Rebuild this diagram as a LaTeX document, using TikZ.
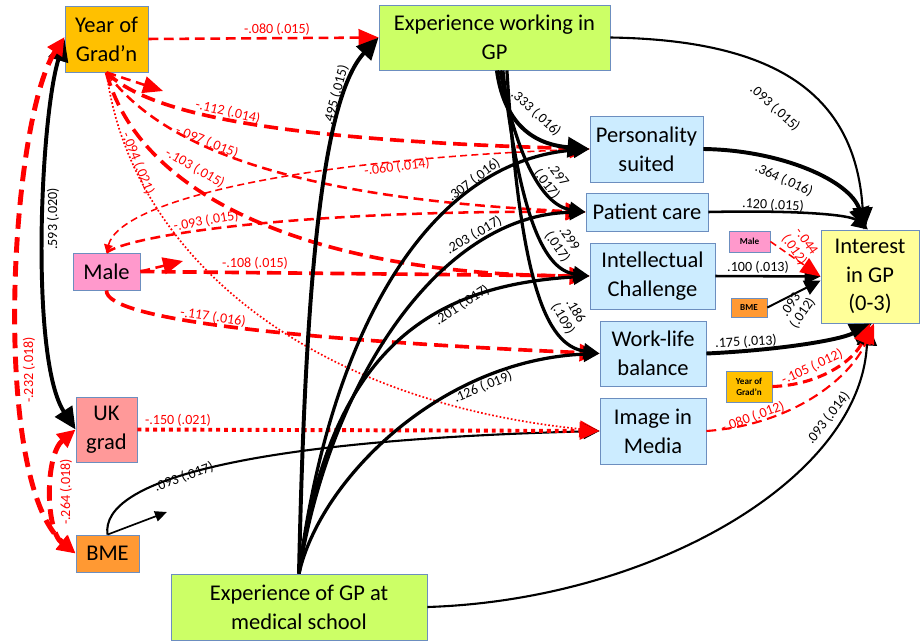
\documentclass[tikz,border=0pt]{standalone}
\usepackage{fontspec}
\setmainfont{Carlito}
\usetikzlibrary{arrows.meta}

\definecolor{boxline}{RGB}{108,142,191}
\definecolor{gradcol}{HTML}{FFC000}
\definecolor{expcol}{HTML}{CCFF66}
\definecolor{motcol}{HTML}{CCECFF}
\definecolor{gpcol}{HTML}{FFFF99}
\definecolor{malecol}{HTML}{FF99CC}
\definecolor{ukcol}{HTML}{FF9999}
\definecolor{bmecol}{HTML}{FF9933}

\tikzset{
	box/.style={draw=boxline, line width=0.6pt, align=center, inner sep=0pt, font=\fontsize{16}{20.5}\selectfont},
	sbox/.style={draw=boxline, line width=0.5pt, align=center, inner sep=0pt, font=\fontsize{6.5}{8}\selectfont\bfseries},
	lbl/.style={inner sep=0pt, align=center, font=\fontsize{10}{10.5}\selectfont},
	rlbl/.style={lbl, text=red},
	rthick/.style={red, line width=2.6pt, dash pattern=on 10pt off 5pt},
	rmid/.style={red, line width=1.8pt, dash pattern=on 7pt off 4pt},
	rthin/.style={red, line width=1.1pt, dash pattern=on 5pt off 3pt},
	rdots/.style={red, line width=2.8pt, dash pattern=on 2.8pt off 2.8pt},
	rdotthin/.style={red, line width=1.2pt, dash pattern=on 1.2pt off 1.5pt},
	bighead/.style={-{Triangle[length=0.55cm,width=0.5cm]}},
	midhead/.style={-{Triangle[length=0.4cm,width=0.38cm]}},
	redhead/.style={-{Triangle[length=0.5cm,width=0.42cm]}},
	smallhead/.style={-{Triangle[length=0.3cm,width=0.26cm]}},
	bothbig/.style={{Triangle[length=0.55cm,width=0.5cm]}-{Triangle[length=0.55cm,width=0.5cm]}},
	bothred/.style={{Triangle[length=0.45cm,width=0.42cm]}-{Triangle[length=0.45cm,width=0.42cm]}}
}

\begin{document}
\begin{tikzpicture}[x=0.025cm, y=-0.025cm]
		\useasboundingbox (0,0) rectangle (921,640);
		
		% background variables
		\node[box, fill=gradcol, minimum width=2.075cm, minimum height=1.65cm] (grad) at (106.5,39) {Year of\\Grad'n};
		\node[box, fill=malecol, minimum width=1.675cm, minimum height=0.925cm] (male) at (106.5,271.5) {Male};
		\node[box, fill=ukcol, minimum width=1.525cm, minimum height=1.625cm] (uk) at (106.5,429.5) {UK\\grad};
		\node[box, fill=bmecol, minimum width=1.575cm, minimum height=0.925cm] (bme) at (107.5,553.5) {BME};
		\node[box, fill=expcol, minimum width=5.775cm, minimum height=1.625cm] (ework) at (494.5,37.5) {Experience working in\\GP};
		\node[box, fill=expcol, minimum width=6.4cm, minimum height=1.65cm] (egp) at (299,607) {Experience of GP at\\medical school};
		
		% motives and outcome
		\node[box, fill=motcol, minimum width=2.825cm, minimum height=1.65cm] (pers) at (646.5,149) {Personality\\suited};
		\node[box, fill=motcol, minimum width=3.05cm, minimum height=0.95cm] (care) at (647,212) {Patient care};
		\node[box, fill=motcol, minimum width=3.125cm, minimum height=1.65cm] (intel) at (652.5,276) {Intellectual\\Challenge};
		\node[box, fill=motcol, minimum width=2.65cm, minimum height=1.625cm] (wlb) at (653,353.5) {Work-life\\balance};
		\node[box, fill=motcol, minimum width=2.65cm, minimum height=1.65cm] (media) at (653,431) {Image in\\Media};
		\node[box, fill=gpcol, minimum width=2.45cm, minimum height=2.325cm] (gp) at (870,276.5) {Interest\\in GP\\(0-3)};
		\node[sbox, fill=malecol, minimum width=1.025cm, minimum height=0.525cm] (smale) at (749.5,241.5) {Male};
		\node[sbox, fill=bmecol, minimum width=0.9cm, minimum height=0.475cm] (sbme) at (749,307.5) {BME};
		\node[sbox, fill=gradcol, minimum width=1.15cm, minimum height=0.775cm] (sgrad) at (749,386.5) {Year of\\Grad'n};
		
		\coordinate (gradstub) at (163,91);
		\coordinate (malestub) at (183,261);
		\coordinate (bmestub) at (167,512);
		
		% correlations
		\draw[line width=2.8pt, bothbig] (grad.west) .. controls (40,120) and (30,360) .. (uk.west);
		\draw[rthick, line width=3.5pt, dash pattern=on 11pt off 6pt, bothred] ([yshift=0.05cm]grad.west) .. controls (10,120) and (-10,480) .. (bme.west);
		\draw[rthick, line width=3.5pt, dash pattern=on 11pt off 6pt, bothred] (uk.west) .. controls (45,455) and (45,530) .. (bme.west);
		\node[lbl, rotate=90] (l593) at (53,219) {.593 (.020)};
		\node[rlbl, rotate=90] (l232) at (29,370) {-.232 (.018)};
		\node[rlbl, rotate=90] (l264) at (66,492) {-.264 (.018)};
		
		% year of graduation
		\draw[rmid, redhead] (grad.east) -- (ework.west);
		\draw[rmid, redhead] (grad.south) -- (gradstub);
		\draw[rthick, redhead] (grad.south) .. controls (150,115) and (280,140) .. (pers.west);
		\draw[rmid, redhead] (grad.south) .. controls (170,160) and (330,200) .. (care.west);
		\draw[rthick, redhead] (grad.south) .. controls (140,200) and (320,275) .. (intel.west);
		\draw[rdotthin, redhead] (grad.south) .. controls (130,250) and (300,400) .. (media.west);
		\node[rlbl] (l080) at (277,29) {-.080 (.015)};
		\node[rlbl, rotate=-13] (l112) at (228,112) {-.112 (.014)};
		\node[rlbl, rotate=-22] (l097) at (207,142) {-.097 (.015)};
		\node[rlbl, rotate=-30] (l103) at (195,168) {-.103 (.015)};
		\node[rlbl, rotate=-68] (l094) at (138,163) {-.094 (.021)};
		
		% male
		\draw[rthin, {Triangle[length=0.2cm,width=0.22cm]}-{Triangle[length=0.5cm,width=0.42cm]}] (male.north) .. controls (120,200) and (300,160) .. (pers.west);
		\draw[rmid, redhead] (male.north) .. controls (130,235) and (300,210) .. (care.west);
		\draw[rthick, redhead] (male.east) -- (intel.west);
		\draw[rmid, redhead] (male.east) -- (malestub);
		\draw[rthick, redhead] (male.south) .. controls (105,320) and (300,340) .. (wlb.west);
		\node[rlbl, rotate=7] (l060) at (397,167) {-.060 (.014)};
		\node[rlbl, rotate=10] (l093m) at (206,221) {-.093 (.015)};
		\node[rlbl] (l108) at (255,263) {-.108 (.015)};
		\node[rlbl, rotate=-8] (l117) at (213,317) {-.117 (.016)};
		
		% UK grad and BME
		\draw[line width=1.5pt, midhead] (bme.north) .. controls (100,480) and (250,440) .. (media.west);
		\draw[line width=1.2pt, smallhead] (bme.north) -- (bmestub);
		\draw[rdots, redhead] (uk.east) -- (media.west);
		\node[rlbl] (l150) at (178,420) {-.150 (.021)};
		\node[lbl, rotate=20] (l093b) at (184,477) {.093 (.017)};
		
		% experience of GP at medical school
		\draw[line width=2.8pt, bighead] (egp.north) .. controls (305,300) and (320,100) .. (ework.west);
		\draw[line width=2.3pt, midhead] (egp.north) .. controls (330,330) and (430,160) .. (pers.west);
		\draw[line width=2.3pt, midhead] (egp.north) .. controls (330,380) and (440,215) .. (care.west);
		\draw[line width=2.3pt, midhead] (egp.north) .. controls (330,340) and (440,285) .. (intel.west);
		\draw[line width=2.3pt, midhead] (egp.north) .. controls (320,480) and (440,360) .. (wlb.west);
		\draw[line width=1.5pt, bighead] (egp.east) .. controls (650,600) and (860,480) .. ([xshift=-0.05cm]gp.south);
		\node[lbl, rotate=75] (l495) at (336,95) {.495 (.015)};
		\node[lbl, rotate=37] (l307) at (474,180) {.307 (.016)};
		\node[lbl, rotate=30] (l203) at (474,235) {.203 (.017)};
		\node[lbl, rotate=33] (l201) at (462,305) {.201 (.017)};
		\node[lbl, rotate=22] (l126) at (483,387) {.126 (.019)};
		\node[lbl, rotate=52] (l093e) at (828,418) {.093 (.014)};
		
		% experience working in GP
		\draw[line width=1.5pt, bighead] (ework.east) .. controls (770,40) and (855,90) .. ([xshift=-0.15cm]gp.north);
		\draw[line width=2.8pt, bighead] ([xshift=0.06cm]ework.south) .. controls (505,130) and (540,145) .. (pers.west);
		\draw[line width=2.3pt, midhead] ([xshift=0.14cm]ework.south) .. controls (515,150) and (540,205) .. (care.west);
		\draw[line width=2.3pt, midhead] ([xshift=0.21cm]ework.south) .. controls (520,220) and (545,270) .. (intel.west);
		\draw[line width=2.3pt, midhead] ([xshift=0.31cm]ework.south) .. controls (520,280) and (545,345) .. (wlb.west);
		\node[lbl, rotate=-42] (l093w) at (775,108) {.093 (.015)};
		\node[lbl, rotate=-42] (l333) at (536,113) {.333 (.016)};
		\node[lbl, rotate=-52] (l297) at (552,180) {.297\\(.017)};
		\node[lbl, rotate=-55] (l299) at (563,243) {.299\\(.017)};
		\node[lbl, rotate=-60] (l186) at (569,315) {.186\\(.109)};
		
		% motives to interest in GP
		\draw[line width=2.8pt, bighead] (pers.east) .. controls (780,150) and (850,180) .. ([xshift=-0.1cm]gp.north);
		\draw[line width=1.8pt, midhead] (care.east) .. controls (800,210) and (850,215) .. ([xshift=-0.05cm]gp.north);
		\draw[line width=1.8pt, midhead] (intel.east) -- (gp.west);
		\draw[line width=2.8pt, bighead] (wlb.east) .. controls (780,350) and (840,340) .. ([xshift=0.05cm]gp.south);
		\draw[rmid, line width=1.5pt, redhead] (media.east) .. controls (790,425) and (850,380) .. ([xshift=0.1cm]gp.south);
		\draw[rthin, redhead] (smale.east) -- (gp.west);
		\draw[line width=1.4pt, midhead] (sbme.east) -- ([yshift=-0.1cm]gp.west);
		\draw[rmid, line width=2.2pt, redhead] (sgrad.east) .. controls (820,385) and (855,360) .. (gp.south);
		\node[lbl, rotate=-25] (l364) at (784,180) {.364 (.016)};
		\node[lbl, rotate=-3] (l120) at (773,205) {.120 (.015)};
		\node[lbl] (l100) at (758,267) {.100 (.013)};
		\node[lbl, rotate=3] (l175) at (746,342) {.175 (.013)};
		\node[rlbl, rotate=20] (l080m) at (753,417) {-.080 (.012)};
		\node[rlbl, rotate=-55] (l044) at (800,246) {-.044\\(.012)};
		\node[lbl, rotate=55] (l093s) at (797,309) {.093\\(.012)};
		\node[rlbl, rotate=25] (l105) at (812,367) {-.105 (.012)};
\end{tikzpicture}
\end{document}
